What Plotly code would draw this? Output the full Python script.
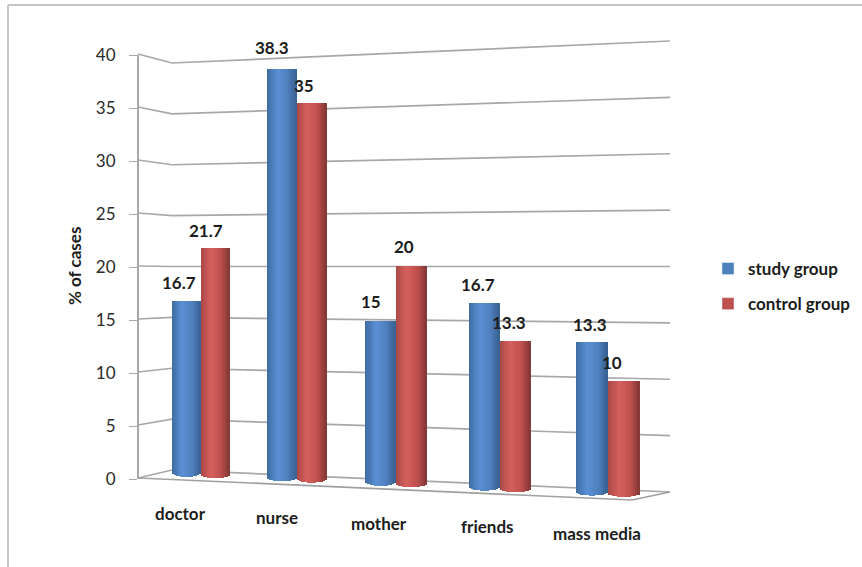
import math
import plotly.graph_objects as go

categories = ["doctor", "nurse", "mother", "friends", "mass media"]
study_group = [16.7, 38.3, 15, 16.7, 13.3]
control_group = [21.7, 35, 20, 13.3, 10]
y_ticks = [0, 5, 10, 15, 20, 25, 30, 35, 40]

W, H = 862, 567
L, R, T, B = 138, 670, 55, 479
unit = (B - T) / 40

def vy(p):
    return (B - p) / unit
def px(x):
    return x / W
def py(y):
    return 1 - y / H

# perspective of the floor and of the value scale along the chart's width
def floor_at(x):
    return 477 + 0.0458 * (x - 187)
def scale_at(x):
    return 10.54 + 0.00243 * (x - 187)

group_x = [201, 297, 396, 500, 608]
half_w = [28.5, 29.5, 30.5, 31, 32]
label_nudge_study = [(-8, -18), (-10, -21), (-10, -19), (-7, -18), (-2, -18)]
label_nudge_control = [(-9, -18), (-8, -18), (-7, -19), (-7, -19), (-12, -18)]
label_pos = [(180, 513), (277, 517), (379, 523), (487, 526), (597, 533)]

BLUE = [(0, "#3d6a9f"), (0.35, "#5b90d6"), (0.7, "#4f7fbe"), (1, "#375f8f")]
RED = [(0, "#a84846"), (0.35, "#d6605e"), (0.7, "#c0504d"), (1, "#813735")]

def hex2(c):
    return [int(c[i:i + 2], 16) for i in (1, 3, 5)]
def shade(stops, t):
    for (a, ca), (b, cb) in zip(stops, stops[1:]):
        if t <= b:
            f = (t - a) / (b - a)
            return "rgb(%d,%d,%d)" % tuple(round(u + (v - u) * f) for u, v in zip(hex2(ca), hex2(cb)))
    return stops[-1][1]

fig = go.Figure()
# carries the visible value axis
fig.add_trace(go.Scatter(x=[None], y=[None], xaxis="x", yaxis="y", showlegend=False, hoverinfo="skip"))
N = 14
for values, side, stops in ((study_group, -1, BLUE), (control_group, 1, RED)):
    for s in range(N):
        t = (s + 0.5) / N
        xs, ws, bases, ys = [], [], [], []
        for i, v in enumerate(values):
            w = half_w[i]
            c = group_x[i] + side * w / 2
            u = 2 * t - 1
            floor = floor_at(c) - 4 * (1 - math.sqrt(1 - u * u))
            top = floor_at(c) - v * scale_at(c)
            xs.append(c + (t - 0.5) * w)
            ws.append(w / N + 0.7)
            bases.append(vy(floor))
            ys.append(vy(top) - vy(floor))
        fig.add_trace(go.Bar(x=xs, y=ys, base=bases, width=ws, xaxis="x", yaxis="y2",
                             marker=dict(color=shade(stops, t), line=dict(width=0)),
                             showlegend=False, hoverinfo="skip"))

for name, col, grp in (("study group", "#4f81bd", "a"), ("control group", "#c0504d", "b")):
    fig.add_trace(go.Bar(x=[None], y=[None], name=name, marker_color=col, legendgroup=grp, showlegend=True,
                         xaxis="x", yaxis="y2"))

# perspective frame and gridlines
GRID = "#a8a8a8"
shapes = []
def seg(x0, y0, x1, y1, color=GRID, width=1.7):
    shapes.append(dict(type="line", xref="paper", yref="paper", x0=px(x0), y0=py(y0), x1=px(x1), y1=py(y1),
                       line=dict(color=color, width=width), layer="below"))
for v in y_ticks:
    f = v / 40
    front = 478 + (54 - 478) * f
    back_l = 470 + (63 - 470) * f
    back_r = 492 + (41 - 492) * f
    seg(L, front, 172, back_l)
    seg(172, back_l, R, back_r)
seg(L, 478, 632, 500, "#a0a0a0")
seg(632, 500, R, 492, "#a0a0a0")
# picture frame
seg(8, 5, W, 5, "#c4c4c4", 2)
seg(8, 5, 8, H, "#c4c4c4", 2)

annotations = []
TXT = "#1c1c1c"
def text(v, x, y, size, angle=0):
    annotations.append(dict(x=px(x), y=py(y), xref="paper", yref="paper", text=str(v), showarrow=False,
                            textangle=angle, xanchor="center", yanchor="middle",
                            font=dict(family="Lato", size=size, color=TXT, weight="bold")))
for i, v in enumerate(study_group):
    c = group_x[i] - half_w[i] / 2
    top = floor_at(c) - v * scale_at(c)
    text(v, c + label_nudge_study[i][0], top + label_nudge_study[i][1], 17)
for i, v in enumerate(control_group):
    c = group_x[i] + half_w[i] / 2
    top = floor_at(c) - v * scale_at(c)
    text(v, c + label_nudge_control[i][0], top + label_nudge_control[i][1], 17)
for name, (x, y) in zip(categories, label_pos):
    text(name, x, y, 17)
text("% of cases", 74, 266, 17, -90)

fig.update_layout(
    width=W, height=H, autosize=False, barmode="overlay", bargap=0,
    paper_bgcolor="white", plot_bgcolor="rgba(0,0,0,0)",
    margin=dict(l=0, r=0, t=0, b=0, pad=0, autoexpand=False),
    xaxis=dict(range=[0, W], domain=[0, 1], visible=False, fixedrange=True, automargin=False),
    yaxis=dict(range=[0, 40], domain=[py(B), py(T)], anchor="free", position=px(L), tickvals=y_ticks,
               ticks="outside", ticklen=8, tickcolor=GRID, tickwidth=1.4, automargin=False,
               showgrid=False, zeroline=False, showline=True, linecolor=GRID, linewidth=2,
               ticklabelstandoff=10, tickfont=dict(family="Lato", size=17, color="#2b2b2b"), fixedrange=True),
    yaxis2=dict(range=[vy(H), vy(0)], domain=[0, 1], anchor="x", visible=False, fixedrange=True),
    legend=dict(x=px(708), y=py(251), xanchor="left", yanchor="top", tracegroupgap=10, bgcolor="rgba(0,0,0,0)",
                font=dict(family="Lato", size=17, color=TXT, weight="bold"), itemclick=False, itemdoubleclick=False),
    shapes=shapes, annotations=annotations,
)
fig.write_html("out.html", config={"displayModeBar": False},
               post_script="document.body.style.margin='0';")
